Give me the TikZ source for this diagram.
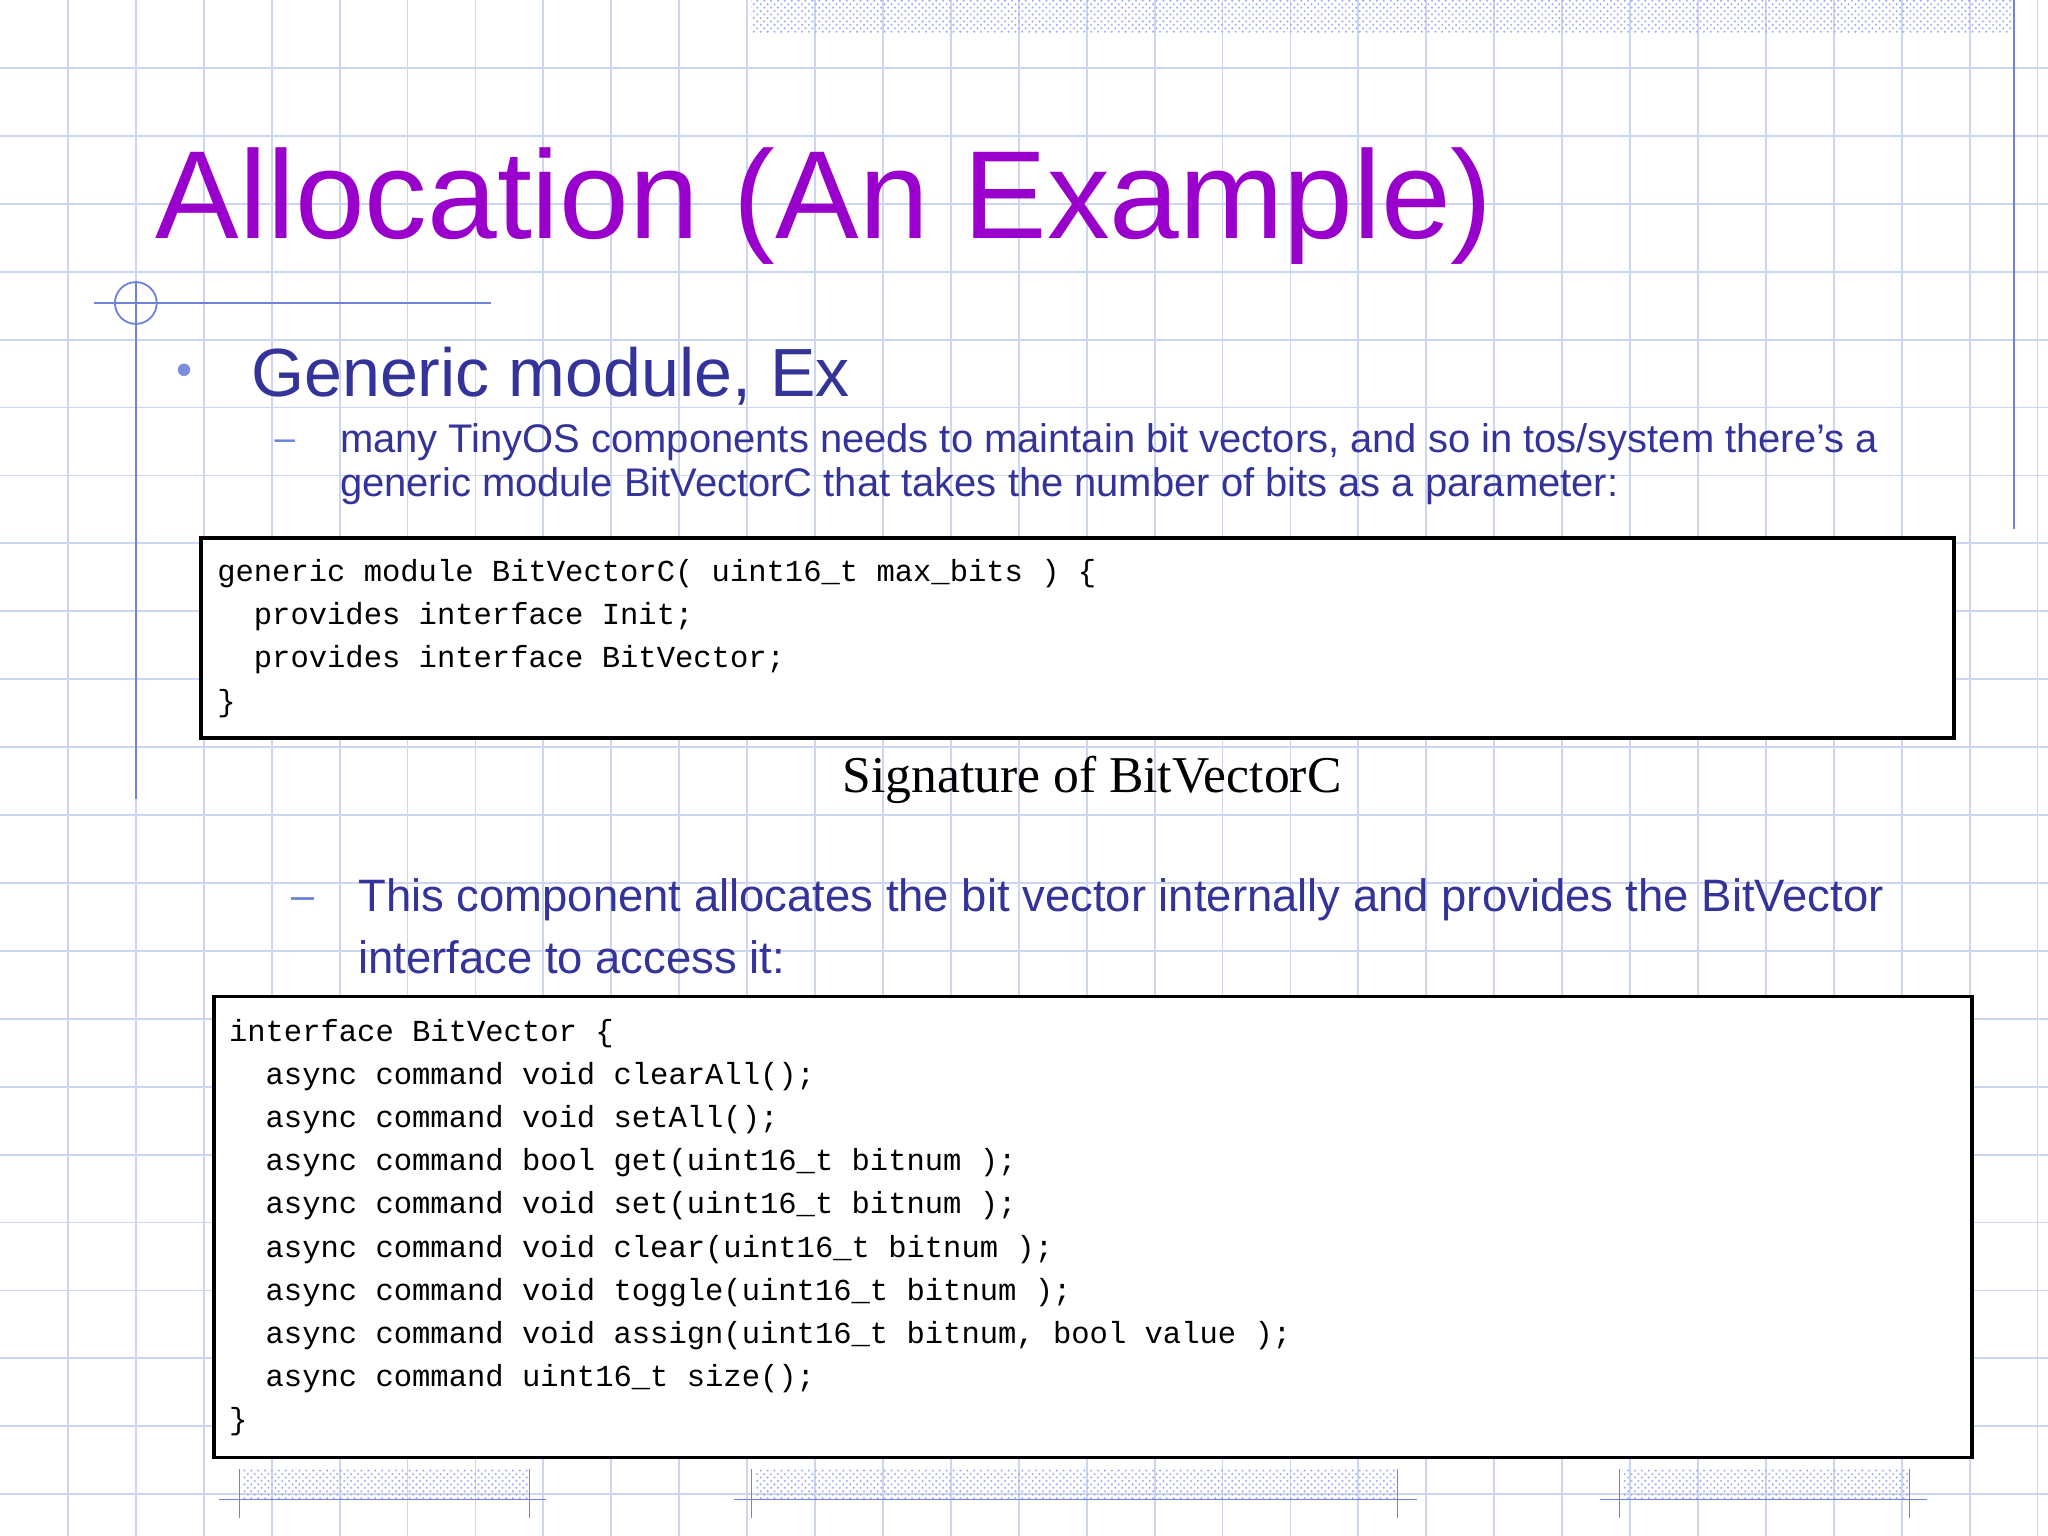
\documentclass[tikz,border=0pt]{standalone}
\usepackage{fontspec}
\setmainfont{Liberation Sans}
\newfontfamily\serifx{Liberation Serif}
\setmonofont{Liberation Mono}
\usetikzlibrary{patterns}
\definecolor{gridc}{RGB}{205,214,240}
\definecolor{purp}{RGB}{153,0,204}
\definecolor{navy}{RGB}{51,51,153}
\definecolor{linec}{RGB}{110,130,220}
\begin{document}
\begin{tikzpicture}[x=0.02cm,y=-0.02cm,
 codebox/.style={draw=black,line width=1.6pt},
 code/.style={anchor=north west,font=\ttfamily\fontsize{13.3}{18.8}\selectfont,align=left,inner sep=0pt},
 hatch/.style={pattern=crosshatch dots,pattern color=gridc!80!blue}]
\useasboundingbox (0,0) rectangle (1568,1176);
\fill[white] (0,0) rectangle (1568,1176);
\foreach \i in {1,...,30} {\draw[gridc,line width=0.8pt] (\i*52,0) -- (\i*52,1176);}
\foreach \i in {1,...,22} {\draw[gridc,line width=0.8pt] (0,\i*52) -- (1568,\i*52);}
% decorations
\fill[hatch] (575,0) rectangle (1540,25);
\draw[linec,line width=0.8pt] (1542,0) -- (1542,405);
\draw[linec,line width=0.8pt] (72,232) -- (376,232);
\draw[linec,line width=0.8pt] (104,215) -- (104,612);
\draw[linec,line width=0.8pt] (104,232) circle (16);
\fill[hatch] (185,1125) rectangle (405,1148);
\fill[hatch] (578,1125) rectangle (1070,1148);
\fill[hatch] (1242,1125) rectangle (1462,1148);
\draw[linec] (168,1148) -- (418,1148) (183,1125) -- (183,1162) (405,1125) -- (405,1162);
\draw[linec] (562,1148) -- (1085,1148) (575,1125) -- (575,1162) (1070,1125) -- (1070,1162);
\draw[linec] (1225,1148) -- (1475,1148) (1240,1125) -- (1240,1162) (1462,1125) -- (1462,1162);
% title
\node[anchor=west,text=purp,font=\fontsize{54.6}{58}\selectfont,inner sep=0pt] (title) at (119,158) {Allocation (An Example)};
\node[text=linec!90!white,font=\fontsize{20}{20}\selectfont,inner sep=0pt] (b1) at (141,287) {•};
\node[anchor=west,text=navy,font=\fontsize{29.7}{30}\selectfont,inner sep=0pt] (sub) at (192,288) {Generic module, Ex};
\node[anchor=west,text=linec,font=\fontsize{16}{16}\selectfont,inner sep=0pt] (d1) at (210,341) {–};
\node[anchor=north west,text=navy,font=\fontsize{17.4}{19}\selectfont,align=left,inner sep=0pt] (t1) at (260,324) {many TinyOS components needs to maintain bit vectors, and so in tos/system there’s a\\generic module BitVectorC that takes the number of bits as a parameter:};
% box1
\draw[codebox,fill=white] (154,412) rectangle (1496,565);
\node[code] (c1) at (166,428) {generic module BitVectorC( uint16\_t max\_bits ) \{\\\ \ provides interface Init;\\\ \ provides interface BitVector;\\\}};
\node[font=\serifx\fontsize{22.5}{24}\selectfont,inner sep=0pt] (cap) at (836,597) {Signature of BitVectorC};
\node[anchor=west,text=linec,font=\fontsize{18}{18}\selectfont,inner sep=0pt] (d2) at (223,692) {–};
\node[anchor=north west,text=navy,font=\fontsize{19.8}{27}\selectfont,align=left,inner sep=0pt] (t2) at (274,672) {This component allocates the bit vector internally and provides the BitVector\\interface to access it:};
% box2
\draw[codebox,fill=white] (164,763) rectangle (1510,1116);
\node[code] (c2) at (175,780) {interface BitVector \{\\
\ \ async command void clearAll();\\
\ \ async command void setAll();\\
\ \ async command bool get(uint16\_t bitnum );\\
\ \ async command void set(uint16\_t bitnum );\\
\ \ async command void clear(uint16\_t bitnum );\\
\ \ async command void toggle(uint16\_t bitnum );\\
\ \ async command void assign(uint16\_t bitnum, bool value );\\
\ \ async command uint16\_t size();\\
\}};
\end{tikzpicture}
\end{document}
